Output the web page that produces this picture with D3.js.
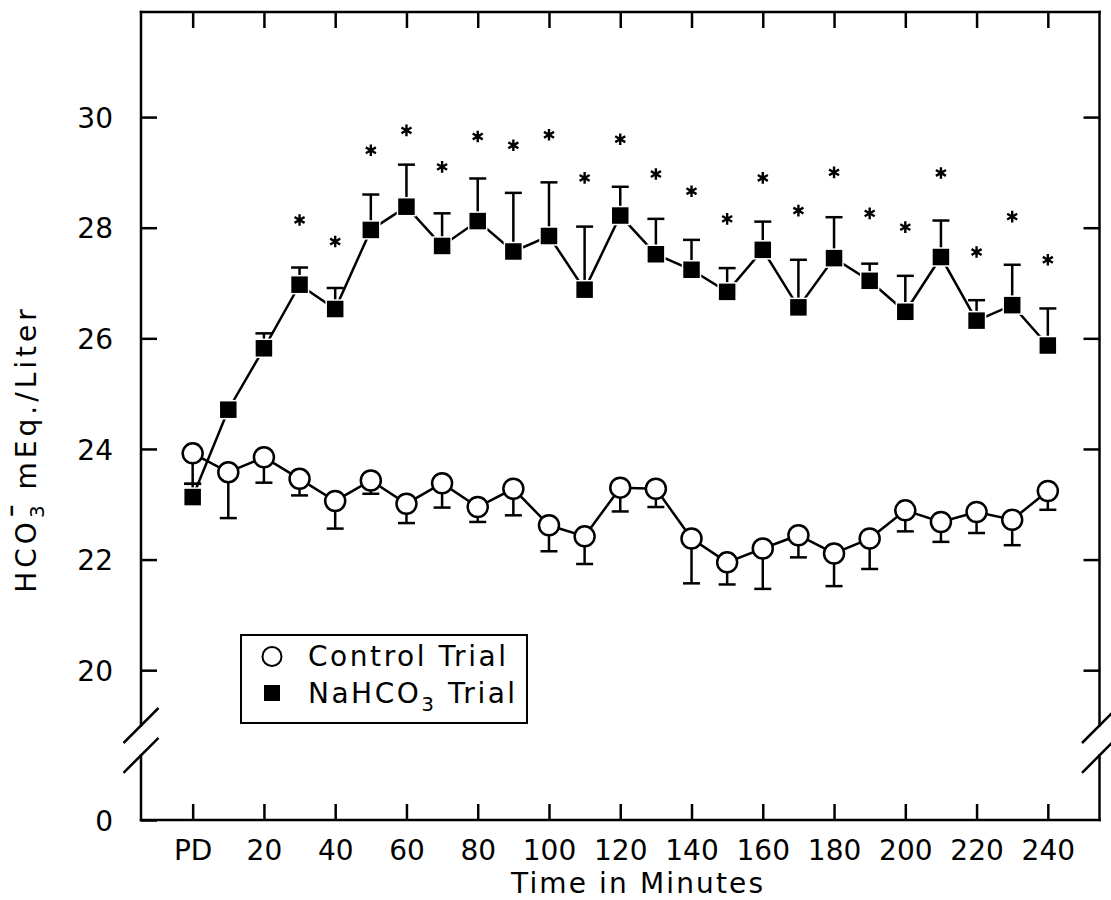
<!DOCTYPE html>
<html>
<head>
<meta charset="utf-8">
<script src="https://cdn.jsdelivr.net/npm/d3@7"></script>
<style>
  body { margin: 0; background: #fff; }
  text { font-family: "DejaVu Sans", sans-serif; fill: #000; }
</style>
</head>
<body>
<div id="chartHolder"></div>
<script>
// DATA
const times = [0,10,20,30,40,50,60,70,80,90,100,110,120,130,140,150,160,170,180,190,200,210,220,230,240];
const tickTimes = [0,20,40,60,80,100,120,140,160,180,200,220,240];
const tickNames = ["PD","20","40","60","80","100","120","140","160","180","200","220","240"];
const yTicks = [0,20,22,24,26,28,30];

const controlMean = [23.92,23.58,23.85,23.46,23.06,23.43,23.01,23.38,22.95,23.28,22.62,22.42,23.30,23.28,22.38,21.95,22.20,22.44,22.11,22.38,22.89,22.68,22.86,22.72,23.24];
const controlSE   = [0.55,0.83,0.46,0.30,0.50,0.24,0.35,0.44,0.27,0.48,0.47,0.50,0.43,0.33,0.81,0.40,0.73,0.40,0.59,0.55,0.38,0.36,0.38,0.46,0.34];

const sodaMean = [23.13,24.71,25.82,26.97,26.53,27.96,28.38,27.67,28.12,27.57,27.85,26.88,28.22,27.52,27.24,26.84,27.60,26.56,27.45,27.04,26.48,27.47,26.32,26.60,25.87];
const sodaSE   = [0.24,0.05,0.27,0.31,0.38,0.64,0.76,0.59,0.77,1.06,0.97,1.14,0.52,0.64,0.54,0.43,0.51,0.86,0.74,0.31,0.65,0.66,0.37,0.73,0.67];

// asterisks (p < .05) from 30 min on, at the height they sit in the figure
const starTimes = [30,40,50,60,70,80,90,100,110,120,130,140,150,160,170,180,190,200,210,220,230,240];
const starLevel = [28.14,27.75,29.40,29.76,29.10,29.65,29.49,29.68,28.90,29.60,28.97,28.66,28.16,28.90,28.31,29.00,28.26,28.01,28.99,27.56,28.20,27.42];

const width = 1111;
const height = 900;

const svg = d3.select("#chartHolder")
  .append("svg")
  .attr("width", width)
  .attr("height", height);

const x = d3.scaleLinear().domain([-14.5, 254.5]).range([141, 1099.5]);
// broken axis: 0..19 squeezed into the bottom strip, 19..31.9 normal
const y = d3.scaleLinear().domain([0, 19, 31.9]).range([820, 725.5, 12]);
const breakHi = 19, breakLo = 13;

const leftX = x.range()[0], rightX = x.range()[1];
const topY = y(31.9), bottomY = y(0);

//AXES (ticks point inward)
const xb = svg.append("g")
  .attr("transform", `translate(0,${bottomY})`)
  .call(d3.axisBottom(x).tickValues(tickTimes).tickSize(-16).tickFormat((d,i)=>tickNames[i]));
xb.selectAll("text").attr("y", 40).attr("dy", 0).style("font-size", "28px");

svg.append("g")
  .attr("transform", `translate(0,${topY})`)
  .call(d3.axisTop(x).tickValues(tickTimes).tickSize(-16).tickFormat(""));

const yl = svg.append("g")
  .attr("transform", `translate(${leftX},0)`)
  .call(d3.axisLeft(y).tickValues(yTicks).tickSize(-16));
yl.selectAll("text").attr("x", -28).attr("dy", "0.36em").style("font-size", "28px");

svg.append("g")
  .attr("transform", `translate(${rightX},0)`)
  .call(d3.axisRight(y).tickValues(yTicks.slice(1)).tickSize(-16).tickFormat(""));

svg.selectAll(".domain").remove();
svg.selectAll(".tick line").attr("stroke", "#000").attr("stroke-width", 2.5);

//FRAME with the gap for the break
const frame = [
  [[leftX, topY], [rightX, topY]],
  [[leftX, bottomY], [rightX, bottomY]],
  [[leftX, topY], [leftX, y(breakHi)]],
  [[leftX, y(breakLo)], [leftX, bottomY]],
  [[rightX, topY], [rightX, y(breakHi)]],
  [[rightX, y(breakLo)], [rightX, bottomY]]
];
svg.selectAll(".frame")
  .data(frame)
  .enter()
  .append("line")
  .attr("class", "frame")
  .attr("x1", d=>d[0][0]).attr("y1", d=>d[0][1])
  .attr("x2", d=>d[1][0]).attr("y2", d=>d[1][1])
  .attr("stroke", "#000")
  .attr("stroke-width", 2.5)
  .attr("stroke-linecap", "square");

const slashes = [];
[leftX, rightX].forEach(cx => [breakHi, breakLo].forEach(v => slashes.push([cx, y(v)])));
svg.selectAll(".slash")
  .data(slashes)
  .enter()
  .append("line")
  .attr("x1", d=>d[0]-17.5).attr("y1", d=>d[1]+17.5)
  .attr("x2", d=>d[0]+17.5).attr("y2", d=>d[1]-17.5)
  .attr("stroke", "#000")
  .attr("stroke-width", 2.5);

//AXIS TITLES
svg.append("text")
  .attr("x", 511)
  .attr("y", 893)
  .attr("textLength", 252)
  .attr("lengthAdjust", "spacing")
  .style("font-size", "28px")
  .text("Time in Minutes");

const yt = svg.append("text")
  .attr("transform", "translate(36,449) rotate(-90)")
  .attr("text-anchor", "middle")
  .style("font-size", "28px")
  .style("letter-spacing", "4px");
yt.append("tspan").text("HCO");
yt.append("tspan").attr("dy", 8).style("font-size", "20px").text("3");
yt.append("tspan").attr("dx", -18).attr("dy", -8).style("font-size", "34px").style("letter-spacing", "0px").text("\u00AF");
yt.append("tspan").attr("dx", 0).text(" mEq./Liter");

//SERIES
const line = d3.line().x(d=>x(d[0])).y(d=>y(d[1]));
const controlPts = times.map((t,i)=>[t, controlMean[i], controlSE[i]]);
const sodaPts = times.map((t,i)=>[t, sodaMean[i], sodaSE[i]]);

[controlPts, sodaPts].forEach(pts => {
  svg.append("path")
    .datum(pts)
    .attr("d", line)
    .attr("fill", "none")
    .attr("stroke", "#000")
    .attr("stroke-width", 2.5);
});

// error bars: control hangs down, NaHCO3 goes up
function errorBars(pts, dir){
  const g = svg.append("g").attr("stroke", "#000").attr("stroke-width", 2.5);
  g.selectAll("line.stem")
    .data(pts)
    .enter()
    .append("line")
    .attr("class", "stem")
    .attr("x1", d=>x(d[0])).attr("x2", d=>x(d[0]))
    .attr("y1", d=>y(d[1])).attr("y2", d=>y(d[1] + dir*d[2]));
  g.selectAll("line.cap")
    .data(pts)
    .enter()
    .append("line")
    .attr("class", "cap")
    .attr("x1", d=>x(d[0])-8.5).attr("x2", d=>x(d[0])+8.5)
    .attr("y1", d=>y(d[1] + dir*d[2])).attr("y2", d=>y(d[1] + dir*d[2]));
}
errorBars(controlPts, -1);
errorBars(sodaPts, 1);

// markers
svg.selectAll(".ctrl")
  .data(controlPts)
  .enter()
  .append("circle")
  .attr("class", "ctrl")
  .attr("cx", d=>x(d[0]))
  .attr("cy", d=>y(d[1]))
  .attr("r", 10)
  .attr("fill", "#fff")
  .attr("stroke", "#000")
  .attr("stroke-width", 2.5);

svg.selectAll(".soda")
  .data(sodaPts)
  .enter()
  .append("rect")
  .attr("class", "soda")
  .attr("x", d=>x(d[0])-9)
  .attr("y", d=>y(d[1])-9)
  .attr("width", 18)
  .attr("height", 18)
  .attr("fill", "#000")
  .attr("stroke", "#fff")
  .attr("stroke-width", 1.5);

// asterisks
svg.selectAll(".star")
  .data(starTimes)
  .enter()
  .append("path")
  .attr("class", "star")
  .attr("d", d3.symbol(d3.symbolAsterisk, 95))
  .attr("transform", (d,i)=>`translate(${x(d)},${y(starLevel[i])})`)
  .attr("fill", "none")
  .attr("stroke", "#000")
  .attr("stroke-width", 2.4);

//LEGEND
svg.append("rect")
  .attr("x", 241).attr("y", 635)
  .attr("width", 286).attr("height", 88)
  .attr("fill", "#fff")
  .attr("stroke", "#000")
  .attr("stroke-width", 2);

svg.append("circle")
  .attr("cx", 272).attr("cy", 656.5).attr("r", 9.5)
  .attr("fill", "#fff").attr("stroke", "#000").attr("stroke-width", 2);
svg.append("rect")
  .attr("x", 264).attr("y", 685).attr("width", 16).attr("height", 16)
  .attr("fill", "#000");

svg.append("text")
  .attr("x", 308).attr("y", 666)
  .attr("textLength", 198).attr("lengthAdjust", "spacing")
  .style("font-size", "28px")
  .text("Control Trial");

const lt = svg.append("text")
  .attr("x", 308).attr("y", 703)
  .style("font-size", "28px")
  .style("letter-spacing", "2.5px");
lt.append("tspan").text("NaHCO");
lt.append("tspan").attr("dy", 8).style("font-size", "20px").text("3");
lt.append("tspan").attr("dy", -8).text(" Trial");
</script>
</body>
</html>
